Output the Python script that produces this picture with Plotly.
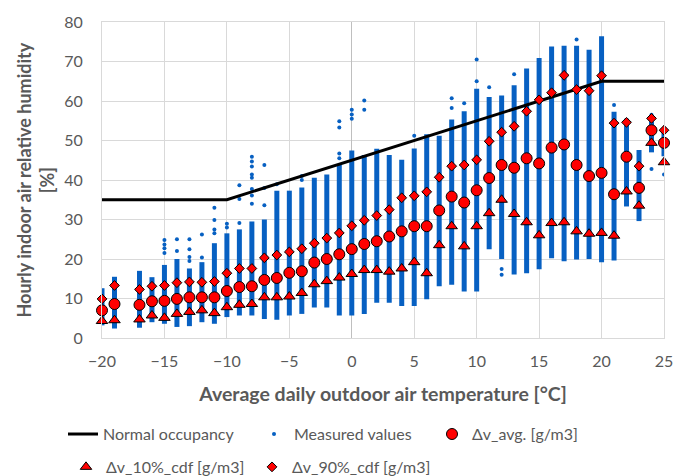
import plotly.graph_objects as go

# ---------------- data ----------------
temps = [-20, -19, -17, -16, -15, -14, -13, -12, -11, -10, -9, -8, -7, -6, -5, -4, -3, -2, -1, 0,
         1, 2, 3, 4, 5, 6, 7, 8, 9, 10, 11, 12, 13, 14, 15, 16, 17, 18, 19, 20, 21, 22, 23, 24, 25]

dv_avg = [7.0, 8.6, 8.4, 9.3, 9.4, 9.9, 10.3, 10.3, 10.3, 11.9, 12.9, 13.1, 14.7, 15.2, 16.5, 16.9,
          19.1, 20.0, 21.2, 22.5, 23.8, 24.5, 25.7, 27.0, 28.3, 28.3, 32.3, 35.8, 34.3, 37.4, 40.5,
          43.8, 43.1, 45.5, 44.2, 48.2, 49.0, 43.8, 41.0, 41.8, 36.4, 45.9, 38.0, 52.6, 49.4]

dv_p10 = [4.3, 4.5, 4.7, 5.7, 5.1, 6.1, 6.6, 7.0, 6.3, 7.8, 8.4, 8.6, 10.3, 10.3, 10.5, 11.4,
          13.6, 14.4, 15.3, 16.2, 17.2, 17.2, 16.8, 17.6, 19.2, 16.4, 23.5, 28.3, 23.2, 28.3, 31.6,
          35.0, 31.4, 29.3, 26.0, 29.1, 29.3, 27.0, 26.4, 26.6, 25.9, 37.1, 33.5, 49.4, 44.5]

dv_p90 = [9.9, 13.3, 12.3, 13.1, 13.3, 14.0, 14.2, 14.1, 14.3, 16.4, 17.6, 17.6, 20.3, 21.0, 21.8, 22.6,
          24.0, 25.3, 26.6, 28.4, 29.8, 31.0, 32.5, 35.5, 36.0, 37.0, 40.7, 43.5, 43.8, 45.1, 49.8,
          52.1, 53.6, 57.4, 60.3, 62.1, 66.5, 62.9, 62.6, 66.4, 54.4, 54.6, 43.5, 55.6, 52.6]

# dense range of the measured hourly values for each temperature
meas_lo = [3.2, 2.4, 2.6, 4.0, 3.6, 2.8, 3.0, 4.0, 3.6, 5.3, 5.7, 5.7, 4.8, 4.6, 5.7, 6.1,
           7.7, 7.7, 5.7, 5.7, 6.1, 8.9, 8.9, 8.1, 8.1, 9.8, 13.1, 13.5, 11.8, 11.8, 22.5,
           20.0, 16.1, 16.4, 17.4, 20.2, 19.4, 19.9, 20.0, 19.2, 19.6, 33.3, 29.6, 47.0, 46.0]
meas_hi = [12.6, 15.5, 17.0, 15.4, 18.5, 20.0, 17.6, 19.2, 24.0, 26.5, 27.5, 29.5, 30.0, 37.3, 37.3, 38.1,
           40.6, 41.4, 43.8, 47.5, 46.3, 47.9, 46.3, 45.1, 48.0, 51.6, 51.2, 55.3, 57.4, 63.1, 61.0,
           61.4, 64.0, 68.2, 70.9, 73.8, 74.0, 74.0, 73.0, 76.4, 57.3, 55.5, 47.6, 54.8, 53.0]

# isolated measured values outside the dense ranges
outlier_t = [-15, -15, -15, -15, -14, -14, -13, -13, -13, -13, -12, -12, -11, -11, -11, -11,
             -10, -10, -9, -9, -9, -8, -8, -8, -8, -8, -8, -8, -8, -7, -7, -7, -6, -4, -4,
             -1, -1, -1, -1, 0, 0, 0, 1, 1, 5, 8, 8, 9, 10, 10, 11, 12, 12, 13, 18, 21, 24, 24, 25]
outlier_v = [21.5, 22.7, 23.7, 24.8, 22.0, 25.0, 19.5, 20.5, 22.5, 25.0, 20.4, 26.2, 26.5, 27.5, 29.9, 33.0,
             28.0, 28.9, 29.1, 35.2, 38.7, 34.0, 36.1, 37.7, 40.6, 41.4, 43.4, 44.7, 45.9, 33.6, 38.0, 43.8, 38.9, 40.0, 41.0,
             45.5, 46.7, 53.3, 54.9, 55.5, 56.6, 57.8, 57.8, 60.1, 51.2, 58.2, 60.7, 59.4, 65.0, 70.5, 63.5, 16.0, 17.5, 66.8, 75.6, 59.0, 42.8, 56.5, 41.4]

occ_t = [-20, -10, 20, 25]
occ_v = [35, 35, 65, 65]

# ---------------- figure ----------------
BLUE = "#0760C2"
GRAY = "#595959"

band_x, band_y = [], []
for t, lo, hi in zip(temps, meas_lo, meas_hi):
    band_x += [t, t, None]
    band_y += [lo, hi, None]

fig = go.Figure()
fig.add_trace(go.Scatter(x=band_x, y=band_y, mode="lines", line=dict(color=BLUE, width=5),
                         showlegend=False, hoverinfo="skip"))
fig.add_trace(go.Scatter(x=outlier_t, y=outlier_v, mode="markers", name="Measured values",
                         marker=dict(color=BLUE, size=4), legend="legend", legendrank=2))
fig.add_trace(go.Scatter(x=occ_t, y=occ_v, mode="lines", name="Normal occupancy",
                         line=dict(color="black", width=3), legend="legend", legendrank=1))
mk_line = dict(color="black", width=1)
fig.add_trace(go.Scatter(x=temps, y=dv_avg, mode="markers", name="Δv_avg. [g/m3]", cliponaxis=False,
                         marker=dict(symbol="circle", size=11, color="#FF0000", line=mk_line),
                         legend="legend3", legendrank=3))
fig.add_trace(go.Scatter(x=temps, y=dv_p10, mode="markers", name="Δv_10%_cdf [g/m3]", cliponaxis=False,
                         marker=dict(symbol="triangle-up", size=10, color="#FF0000", line=mk_line),
                         legend="legend2", legendrank=4))
fig.add_trace(go.Scatter(x=temps, y=dv_p90, mode="markers", name="Δv_90%_cdf [g/m3]", cliponaxis=False,
                         marker=dict(symbol="diamond", size=7.5, color="#FF0000", line=mk_line),
                         legend="legend2", legendrank=5))

axis_common = dict(gridcolor="#D9D9D9", gridwidth=1, showline=True, linecolor="#D9D9D9",
                   mirror=True, tickfont=dict(size=16, color=GRAY), ticks="")

legend_common = dict(orientation="h", xref="container", yref="container",
                     xanchor="left", yanchor="middle", entrywidthmode="pixels",
                     font=dict(size=16, color=GRAY), bgcolor="rgba(0,0,0,0)")

fig.update_layout(
    width=686, height=476,
    margin=dict(l=102, r=22, t=15, b=138),
    plot_bgcolor="white", paper_bgcolor="white",
    font=dict(family="Lato", color=GRAY, size=16),
    xaxis=dict(range=[-20, 25], tick0=-20, dtick=5, zeroline=True, zerolinecolor="#BFBFBF",
               zerolinewidth=1, ticklabelstandoff=9,
               title=dict(text="<b>Average daily outdoor air temperature [°C]</b>",
                          font=dict(size=19.5, color=GRAY), standoff=18),
               **axis_common),
    yaxis=dict(range=[0, 80], tick0=0, dtick=10, zeroline=True, zerolinecolor="#BFBFBF",
               zerolinewidth=1, ticklabelstandoff=15, **axis_common),
    annotations=[dict(text="<b>Hourly indoor air relative humidity<br>[%]</b>",
                      xref="paper", yref="paper", x=0, y=0.5, xshift=-67.5,
                      xanchor="center", yanchor="middle", textangle=-90, showarrow=False,
                      font=dict(size=18, color=GRAY))],
    legend=dict(x=63 / 686, y=0.088, entrywidth=146, **legend_common),
    legend3=dict(x=432 / 686, y=0.088, entrywidth=120, **legend_common),
    legend2=dict(x=66 / 686, y=0.019, entrywidth=141, **legend_common),
)

fig.write_html("out.html")
